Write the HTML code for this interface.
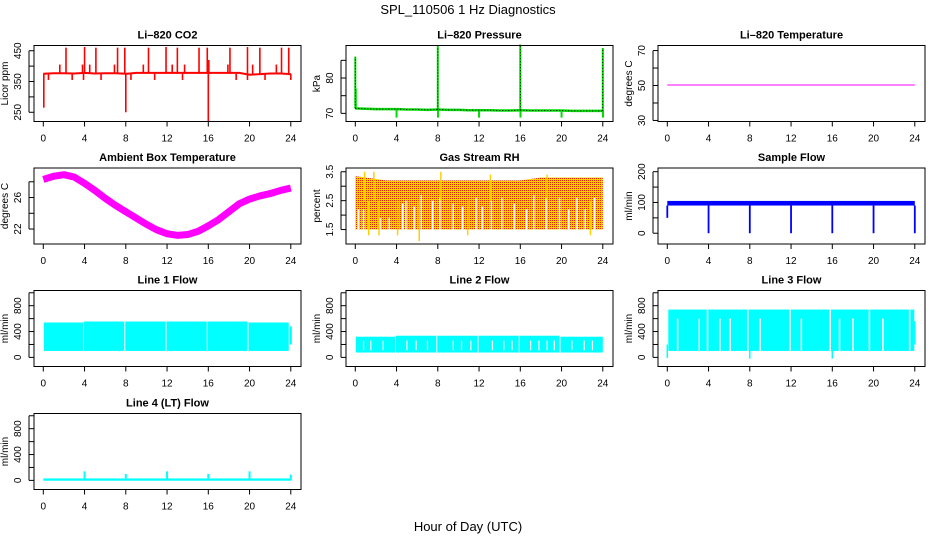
<!DOCTYPE html>
<html><head><meta charset="utf-8"><style>
html,body{margin:0;padding:0;background:#fff}
svg{display:block;font-family:"Liberation Sans",sans-serif}
</style></head><body>
<svg id="chart" width="936" height="540" viewBox="0 0 936 540">
<defs>
<pattern id="rhpat" width="2" height="2" patternUnits="userSpaceOnUse">
<rect width="2" height="2" fill="#ffd000"/><rect width="1" height="1" fill="#ee2200"/>
</pattern>
</defs>
<text x="468" y="14" text-anchor="middle" font-size="13">SPL_110506  1 Hz Diagnostics</text>
<text x="468" y="531" text-anchor="middle" font-size="13">Hour of Day (UTC)</text>
</svg>
<script>
// ---- data ----
const xTicks = [0,4,8,12,16,20,24];
const hours = [0,1,2,3,4,5,6,7,8,9,10,11,12,13,14,15,16,17,18,19,20,21,22,23,24];
const co2Base = [375,377,377,376,378,376,377,377,375,378,378,378,378,378,378,378,378,378,378,378,372,374,376,376,374];
const co2SpikeHours = [2.2,4.0,5.1,7.2,7.9,10.2,11.9,13.0,15.1,15.9,18.1,19.8,21.0,23.1,23.8,1.6,3.8,4.5,6.9,9.7,12.5,13.7,17.9,20.3,22.6,0.5,2.8,3.9,5.6,8.5,10.8,13.5,18.7,19.8,21.5,24.0,0.05,8.0,16.0,16.05];
const co2SpikeVals  = [460,462,460,460,460,460,462,460,460,460,460,462,460,460,460,405,405,405,405,405,405,405,405,405,405,355,355,355,355,355,355,355,355,355,355,355,265,250,220,420];
const presBase = [71.4,71.3,71.2,71.2,71.2,71.1,71.1,71.0,71.1,71.0,71.0,70.9,70.9,70.9,70.8,70.8,70.9,70.8,70.8,70.8,70.8,70.7,70.7,70.7,70.7];
const presSpikeHours = [0,0.05,8,16,24,4,8.02,12,16.02,20,24.02];
const presSpikeVals  = [86,77,89,89.5,88.5,68.8,68.8,68.8,68.8,68.8,68.8];
const liTemp = [50.3,50.3,50.3,50.3,50.3,50.3,50.3,50.3,50.3,50.3,50.3,50.3,50.3,50.3,50.3,50.3,50.3,50.3,50.3,50.3,50.3,50.3,50.3,50.3,50.3];
const ambTemp = [28.3,28.7,28.9,28.6,27.8,26.9,25.9,25.0,24.2,23.4,22.6,21.9,21.4,21.2,21.3,21.7,22.4,23.2,24.2,25.2,25.8,26.2,26.5,26.9,27.2];
const rhTop = [3.35,3.3,3.25,3.2,3.2,3.2,3.2,3.2,3.2,3.2,3.2,3.2,3.2,3.2,3.2,3.2,3.2,3.25,3.3,3.3,3.3,3.3,3.3,3.3,3.3];
const rhBottom = 1.5;
const rhGapHours = [0.3,0.8,1.3,2.4,3.3,4.6,4.9,5.7,6.4,7.5,8.2,9.5,10.4,11.7,12.3,13.2,14.2,15.4,16.6,17.3,18.5,19.8,20.7,21.5,22.3,23.2];
const rhGapVals  = [2.2,2.2,2.0,1.9,1.9,2.4,2.5,2.3,2.7,2.5,2.6,2.4,2.3,2.6,2.3,2.5,2.6,2.4,2.2,2.7,2.6,2.6,2.2,2.6,2.2,2.6];
const rhSpikeHours = [1.3,2.3,4.1,6.2,10.9,22.8,0.9,1.8,8.3,13.1,18.6];
const rhSpikeVals  = [1.3,1.3,1.3,1.1,1.3,1.3,3.5,3.5,3.5,3.4,3.4];
const sfLow = 90, sfHigh = 105;
const sfDipHours = [0,4,8,12,16,20,24];
const sfDipVals  = [50,0,0,0,0,0,0];
const l1Start = [0.05,3.95,7.95,11.95,15.95,19.9,23.9];
const l1End   = [3.85,7.85,11.85,15.85,19.8,23.8,24.1];
const l1Low   = [100,100,100,100,100,100,200];
const l1High  = [540,555,555,555,555,540,480];
const l2Start = [0.05,3.95,7.95,11.95,15.95,19.9];
const l2End   = [3.85,7.85,11.85,15.85,19.8,24.0];
const l2Low   = [75,75,75,75,75,75];
const l2High  = [320,335,335,335,335,320];
const l2GapHours = [0.8,1.5,2.7,5.0,5.9,7.0,9.5,10.3,11.2,13.3,14.4,15.2,17.0,17.8,18.6,19.3,21.0,22.2,23.0];
const l3Start = [0.1], l3End = [23.95], l3Low = [100], l3High = [740];
const l3GapHours = [1.0,3.1,3.9,5.1,6.1,7.8,9.0,11.9,13.0,15.8,16.7,18.0,19.6,20.9,23.5];
const l3GapTops  = [600,600,740,600,600,740,600,740,600,740,600,600,740,600,740];
const l3SpikeHours = [0.0,8.0,16.0,24.0];
const l3SpikeVals  = [-10,-20,-20,560];
const l4Low = -5, l4High = 30;
const l4SpikeHours = [4,8,12,16,20,24];
const l4SpikeVals  = [140,100,140,100,140,90];

// ---- layout ----
const NS = 'http://www.w3.org/2000/svg';
const svg = document.getElementById('chart');
const colLeft = [34,346,658], rowTop = [45.5,168,290.5,413.5], W = 267, H = 76;
function mk(tag, attrs, parent){ const e=document.createElementNS(NS,tag); for(const k in attrs) e.setAttribute(k,attrs[k]); (parent||svg).appendChild(e); return e; }

function panel(col,row,name,title,ylab,ylim,yticks,ylabels){
  const L=colLeft[col], T=rowTop[row];
  const g = mk('g',{});
  
  
  const x = h => L + 9.3 + h*(247.5/24);
  const y = v => T + H - (v-ylim[0])/(ylim[1]-ylim[0])*H;
  const plot = mk('g',{},g);
  
  
  const box = mk('rect',{x:L,y:T,width:W,height:H,fill:'none',stroke:'#000','stroke-width':1},g);
  
  
  const t = mk('text',{x:L+W/2,y:T-7,'text-anchor':'middle','font-size':11,'font-weight':'bold'},g);
  t.textContent = title;
  
  
  const xa = mk('g',{},g);
  
  
  xTicks.forEach(h=>{
    mk('line',{x1:x(h),x2:x(h),y1:T+H,y2:T+H+5,stroke:'#000'},xa);
    const tx = mk('text',{x:x(h),y:T+H+20,'text-anchor':'middle','font-size':10},xa);
    tx.textContent = h;
  });
  const ya = mk('g',{},g);
  
  
  mk('line',{x1:L-5,x2:L-5,y1:y(yticks[0]),y2:y(yticks[yticks.length-1]),stroke:'#000'},ya);
  yticks.forEach((v,i)=>{
    mk('line',{x1:L-5,x2:L,y1:y(v),y2:y(v),stroke:'#000'},ya);
    if(ylabels[i]!==''){
      const tx = mk('text',{x:0,y:0,'text-anchor':'middle','font-size':10,transform:`translate(${L-13},${y(v)}) rotate(-90)`},ya);
      tx.textContent = ylabels[i];
    }
  });
  const yl = mk('text',{x:0,y:0,'text-anchor':'middle','font-size':10,transform:`translate(${L-26},${T+H/2}) rotate(-90)`},g);
  yl.textContent = ylab;
  
  
  return {x,y,g:plot};
}
function poly(p,xs,ys,attrs){ return mk('polyline',Object.assign({points:xs.map((h,i)=>p.x(h)+','+p.y(ys[i])).join(' '),fill:'none'},attrs),p.g); }
function vline(p,h,v0,v1,attrs){ return mk('line',Object.assign({x1:p.x(h),x2:p.x(h),y1:p.y(v0),y2:p.y(v1)},attrs),p.g); }
function band(p,h0,h1,lo,hi,fill){ return mk('rect',{x:p.x(h0),y:p.y(hi),width:p.x(h1)-p.x(h0),height:p.y(lo)-p.y(hi),fill:fill},p.g); }

// CO2
let p = panel(0,0,'co2','Li\u2013820 CO2','Licor ppm',[220,467],[250,300,350,400,450],['250','','350','','450']);
poly(p,hours,co2Base,{stroke:'#ff0000','stroke-width':2});
co2SpikeHours.forEach((h,i)=>vline(p,h,375,co2SpikeVals[i],{stroke:'#ff0000','stroke-width':1.6}));
// Pressure
p = panel(1,0,'pressure','Li\u2013820 Pressure','kPa',[67.7,89.2],[70,75,80,85],['70','','80','']);
poly(p,hours,presBase,{stroke:'#00dd00','stroke-width':2.5});
presSpikeHours.forEach((h,i)=>vline(p,h,presBase[Math.round(Math.min(h,24))],presSpikeVals[i],{stroke:'#00dd00','stroke-width':2}));
poly(p,hours,presBase,{stroke:'#000','stroke-width':1,'stroke-dasharray':'1,2'});
[0,8,16,24].forEach((h,i)=>vline(p,h,presBase[h],presSpikeVals[[0,2,3,4][i]],{stroke:'#000','stroke-width':1,'stroke-dasharray':'1,2'}));
// Li temp
p = panel(2,0,'li820-temperature','Li\u2013820 Temperature','degrees C',[29.4,72.9],[30,40,50,60,70],['30','','50','','70']);
poly(p,hours,liTemp,{stroke:'#ff00ff','stroke-width':1});
// Ambient
p = panel(0,1,'ambient-temperature','Ambient Box Temperature','degrees C',[20.1,29.75],[22,24,26,28],['22','','26','']);
poly(p,hours,ambTemp,{stroke:'#ff00ff','stroke-width':7,'stroke-linejoin':'round'});
// RH
p = panel(1,1,'gas-stream-rh','Gas Stream RH','percent',[1.0,3.63],[1.5,2,2.5,3,3.5],['1.5','','2.5','','3.5']);
mk('polygon',{points:hours.map((h,i)=>p.x(h)+','+p.y(rhTop[i])).concat([p.x(24)+','+p.y(rhBottom),p.x(0)+','+p.y(rhBottom)]).join(' '),fill:'url(#rhpat)'},p.g);
rhGapHours.forEach((h,i)=>vline(p,h,rhBottom,rhGapVals[i],{stroke:'#fff','stroke-width':1.5}));
rhSpikeHours.forEach((h,i)=>vline(p,h,2.5,rhSpikeVals[i],{stroke:'#ffd000','stroke-width':1.5}));
// Sample flow
p = panel(2,1,'sample-flow','Sample Flow','ml/min',[-35,212],[0,50,100,150,200],['0','','100','','200']);
band(p,0,24,sfLow,sfHigh,'#0000ff');
sfDipHours.forEach((h,i)=>vline(p,h,sfLow,sfDipVals[i],{stroke:'#0000ff','stroke-width':1.8}));
// Line flows
const flowTicks=[0,200,400,600,800,1000], flowLabels=['0','','400','','800',''];
p = panel(0,2,'line-1-flow','Line 1 Flow','ml/min',[-141,1035],flowTicks,flowLabels);
l1Start.forEach((s,i)=>band(p,s,l1End[i],l1Low[i],l1High[i],'#00ffff'));
p = panel(1,2,'line-2-flow','Line 2 Flow','ml/min',[-141,1035],flowTicks,flowLabels);
l2Start.forEach((s,i)=>band(p,s,l2End[i],l2Low[i],l2High[i],'#00ffff'));
l2GapHours.forEach(h=>vline(p,h,110,260,{stroke:'#fff','stroke-width':1.2}));
p = panel(2,2,'line-3-flow','Line 3 Flow','ml/min',[-141,1035],flowTicks,flowLabels);
l3Start.forEach((s,i)=>band(p,s,l3End[i],l3Low[i],l3High[i],'#00ffff'));
l3GapHours.forEach((h,i)=>vline(p,h,100,l3GapTops[i],{stroke:'#fff','stroke-width':1.5}));
l3SpikeHours.forEach((h,i)=>vline(p,h,200,l3SpikeVals[i],{stroke:'#00ffff','stroke-width':1.5}));
p = panel(0,3,'line-4-flow','Line 4 (LT) Flow','ml/min',[-141,1035],flowTicks,flowLabels);
band(p,0,24,l4Low,l4High,'#00ffff');
l4SpikeHours.forEach((h,i)=>vline(p,h,0,l4SpikeVals[i],{stroke:'#00ffff','stroke-width':2}));
</script>
</body></html>
